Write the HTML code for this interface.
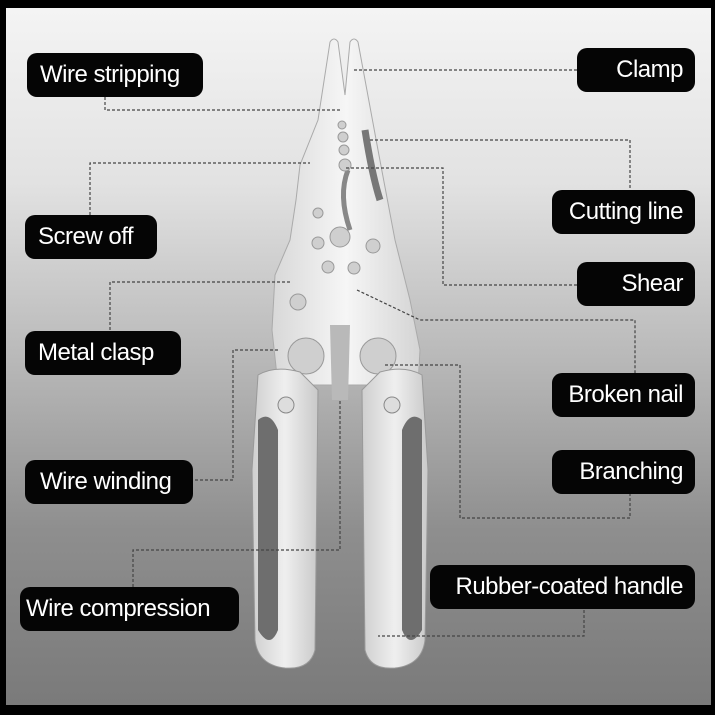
<!DOCTYPE html>
<html><head><meta charset="utf-8"><style>
html,body{margin:0;padding:0;background:#000;}
body{width:715px;height:715px;overflow:hidden;position:relative;font-family:"Liberation Sans","Noto Sans CJK SC",sans-serif;}
.bg{position:absolute;left:6px;top:8px;width:705px;height:697px;background:linear-gradient(180deg,#f4f4f4 0%,#e2e2e2 25%,#b9b9b9 50%,#8e8e8e 75%,#7a7a7a 100%);}
.lb{position:absolute;background:#050505;color:#fff;border-radius:10px;font-size:24px;letter-spacing:-0.5px;line-height:44px;height:44px;box-sizing:border-box;white-space:nowrap;}
.r{text-align:right;padding-right:12px;}
svg{position:absolute;left:0;top:0;}
</style></head><body>
<div class="bg"></div>
<svg width="715" height="715" viewBox="0 0 715 715">
<defs>
<linearGradient id="metal" x1="0" x2="1"><stop offset="0" stop-color="#d8d8d8"/><stop offset="0.5" stop-color="#f6f6f6"/><stop offset="1" stop-color="#d4d4d4"/></linearGradient>
<linearGradient id="hand" x1="0" x2="1"><stop offset="0" stop-color="#cfcfcf"/><stop offset="0.5" stop-color="#efefef"/><stop offset="1" stop-color="#c9c9c9"/></linearGradient>
</defs>
<path d="M330,42 Q334,36 338,42 L345,95 L350,42 Q354,36 358,42 L378,150 L395,240 L410,300 L420,350 L418,385 L278,385 L272,330 L275,275 L290,240 L296,200 L300,165 L318,120 Z" fill="url(#metal)" stroke="#aaa"/>
<path d="M365,130 Q372,175 380,200" stroke="#777" stroke-width="7" fill="none"/>
<path d="M348,170 Q338,195 350,230" stroke="#888" stroke-width="5" fill="none"/>
<g fill="#cfcfcf" stroke="#999">
<circle cx="342" cy="125" r="4"/><circle cx="343" cy="137" r="5"/><circle cx="344" cy="150" r="5"/><circle cx="345" cy="165" r="6"/>
<circle cx="340" cy="237" r="10"/><circle cx="318" cy="243" r="6"/><circle cx="373" cy="246" r="7"/><circle cx="328" cy="267" r="6"/><circle cx="354" cy="268" r="6"/><circle cx="318" cy="213" r="5"/><circle cx="298" cy="302" r="8"/>
<circle cx="306" cy="356" r="18"/><circle cx="378" cy="356" r="18"/></g>
<path d="M330,325 L350,325 L348,400 L332,400 Z" fill="#b9b9b9"/>
<path d="M258,375 Q275,365 300,372 L318,390 L315,650 Q310,670 285,668 Q258,665 255,640 L252,470 Z" fill="url(#hand)" stroke="#999"/>
<path d="M258,420 Q270,410 278,430 L278,630 Q270,650 258,630 Z" fill="#6e6e6e"/>
<path d="M422,375 Q405,365 380,372 L362,390 L365,650 Q370,670 395,668 Q422,665 425,640 L428,470 Z" fill="url(#hand)" stroke="#999"/>
<path d="M422,420 Q410,410 402,430 L402,630 Q410,650 422,630 Z" fill="#6e6e6e"/>
<circle cx="286" cy="405" r="8" fill="#ddd" stroke="#888"/><circle cx="392" cy="405" r="8" fill="#ddd" stroke="#888"/>
<g stroke="#444" stroke-width="1.2" stroke-dasharray="3,2" fill="none">
<polyline points="105,97 105,110 340,110"/>
<polyline points="577,70 352,70"/>
<polyline points="370,140 630,140 630,190"/>
<polyline points="90,215 90,163 310,163"/>
<polyline points="577,285 443,285 443,168 345,168"/>
<polyline points="110,330 110,282 290,282"/>
<polyline points="357,290 420,320 635,320 635,373"/>
<polyline points="195,480 233,480 233,350 278,350"/>
<polyline points="385,365 460,365 460,518 630,518 630,493"/>
<polyline points="133,587 133,550 340,550 340,400"/>
<polyline points="584,610 584,636 378,636"/>
</g>
</svg>
<div class="lb" style="left:27px;top:53px;width:176px;padding-left:13px;">Wire stripping</div>
<div class="lb r" style="left:577px;top:48px;width:118px;">Clamp</div>
<div class="lb r" style="left:552px;top:190px;width:143px;">Cutting line</div>
<div class="lb" style="left:25px;top:215px;width:132px;padding-left:13px;">Screw off</div>
<div class="lb r" style="left:577px;top:262px;width:118px;">Shear</div>
<div class="lb" style="left:25px;top:331px;width:156px;padding-left:13px;">Metal clasp</div>
<div class="lb r" style="left:552px;top:373px;width:143px;">Broken nail</div>
<div class="lb" style="left:25px;top:460px;width:168px;padding-left:15px;">Wire winding</div>
<div class="lb r" style="left:552px;top:450px;width:143px;">Branching</div>
<div class="lb" style="left:20px;top:587px;width:219px;padding-left:6px;">Wire compression</div>
<div class="lb r" style="left:430px;top:565px;width:265px;">Rubber-coated handle</div>
</body></html>
